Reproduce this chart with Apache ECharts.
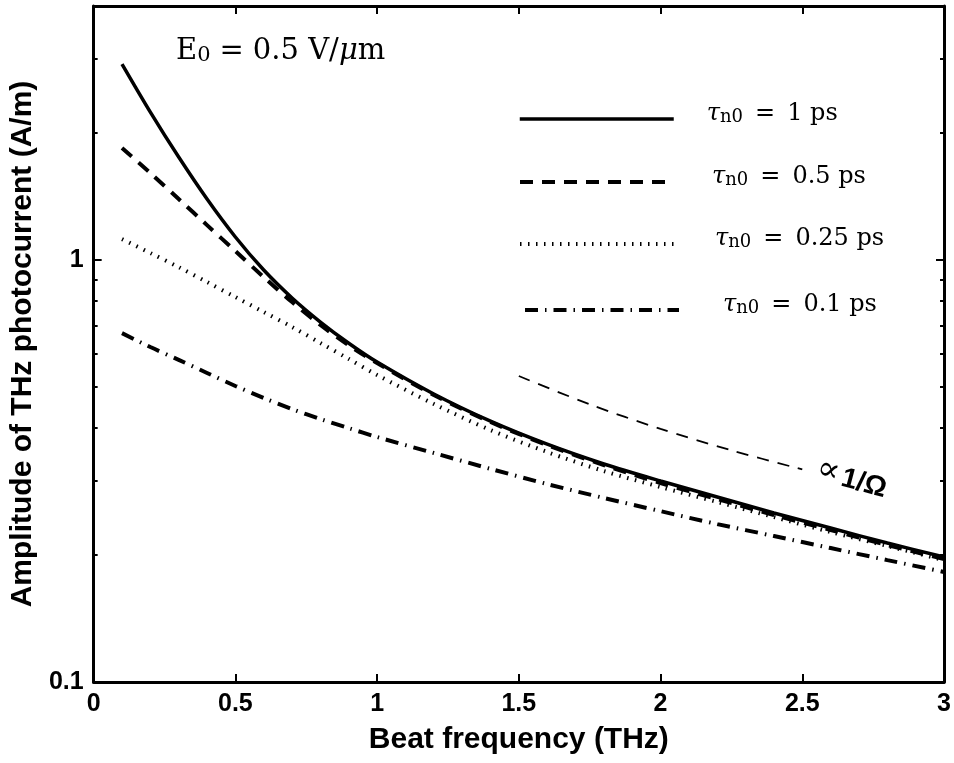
<!DOCTYPE html>
<html>
<head>
<meta charset="utf-8">
<script src="https://cdn.jsdelivr.net/npm/echarts@6/dist/echarts.min.js"></script>
<style>
  html, body { margin: 0; padding: 0; background: #fff; }
  #chart { width: 954px; height: 763px; }
</style>
</head>
<body>
<div id="chart"></div>
<script>
// ---- data ----
const freq   = [0.1, 0.2, 0.3, 0.4, 0.5, 0.6, 0.7, 0.8, 0.9, 1.0, 1.2, 1.4, 1.6, 1.8, 2.0, 2.2, 2.4, 2.6, 2.8, 3.0];
const tau1   = [2.914, 2.242, 1.754, 1.395, 1.134, 0.947, 0.813, 0.713, 0.635, 0.573, 0.4814, 0.415, 0.366, 0.3286, 0.2995, 0.2744, 0.2515, 0.2317, 0.2135, 0.1978];
const tau05  = [1.843, 1.608, 1.395, 1.210, 1.050, 0.911, 0.795, 0.7015, 0.628, 0.570, 0.4787, 0.4132, 0.3643, 0.3267, 0.2961, 0.2714, 0.2487, 0.2292, 0.2112, 0.1956];
const tau025 = [1.121, 1.039, 0.962, 0.887, 0.817, 0.753, 0.694, 0.636, 0.583, 0.534, 0.456, 0.3955, 0.3508, 0.3162, 0.2898, 0.2671, 0.246, 0.2267, 0.2101, 0.1945];
const tau01  = [0.671, 0.622, 0.580, 0.540, 0.503, 0.471, 0.4434, 0.4199, 0.3995, 0.3807, 0.3489, 0.320, 0.2945, 0.273, 0.254, 0.2367, 0.2218, 0.2077, 0.1945, 0.1823];
const invFreq      = [1.5, 1.75, 2.0, 2.25, 2.5];
const invReference = [0.531, 0.455, 0.398, 0.354, 0.319];

const xTicksInterval = 0.5;
const yMajorTicks = [0.1, 1];
const yMinorTicks = [0.2, 0.3, 0.4, 0.5, 0.6, 0.7, 0.8, 0.9, 2, 3];

const seriesNames = ['tau1', 'tau05', 'tau025', 'tau01'];
const legendLabels = {
  tau1:   '{i|τ}{s|n0}{e|=}{t|1}{t| ps}',
  tau05:  '{i|τ}{s|n0}{e|=}{t|0.5}{t| ps}',
  tau025: '{i|τ}{s|n0}{e|=}{t|0.25}{t| ps}',
  tau01:  '{i|τ}{s|n0}{e|=}{t|0.1}{t| ps}'
};

// ---- styles ----
const serif = 'DejaVu Serif';
const sans = 'Liberation Sans';
const richLatex = {
  i: { fontFamily: serif, fontStyle: 'italic', fontWeight: 'normal', fontSize: 24, lineHeight: 30, verticalAlign: 'bottom', color: '#000' },
  t: { fontFamily: serif, fontWeight: 'normal', fontSize: 24, lineHeight: 30, verticalAlign: 'bottom', color: '#000' },
  s: { fontFamily: serif, fontWeight: 'normal', fontSize: 18, lineHeight: 15, verticalAlign: 'bottom', color: '#000' },
  e: { fontFamily: serif, fontWeight: 'normal', fontSize: 24, lineHeight: 30, verticalAlign: 'bottom', color: '#000', padding: [0, 12, 0, 12] }
};
const styles = {
  tau1:   { width: 3.5, type: 'solid' },
  tau05:  { width: 4, type: [13, 9] },
  tau025: { width: 4, type: [1.5, 6.5] },
  tau01:  { width: 4, type: [13, 7, 1.5, 7] }
};
const legendPos = {
  tau1:   { left: 518, top: 102, pad: 28 },
  tau05:  { left: 518, top: 165, pad: 33 },
  tau025: { left: 518, top: 227, pad: 36 },
  tau01:  { left: 523, top: 293, pad: 39 }
};
const seriesData = { tau1: tau1, tau05: tau05, tau025: tau025, tau01: tau01 };

function pairs(xs, ys) { return xs.map((x, k) => [x, ys[k]]); }

const axisLineStyle = { color: '#000', width: 3 };

function xAxisDef(pos, showLabel) {
  return {
    type: 'value', min: 0, max: 3, interval: xTicksInterval, position: pos,
    axisLine: { show: true, onZero: false, lineStyle: axisLineStyle },
    axisTick: { show: true, inside: true, length: 8, lineStyle: { color: '#000', width: 2 } },
    axisLabel: { show: showLabel, fontFamily: sans, fontWeight: 'bold', fontSize: 25, color: '#000', margin: 10 },
    splitLine: { show: false },
    name: showLabel ? 'Beat frequency (THz)' : '',
    nameLocation: 'middle', nameGap: 43,
    nameTextStyle: { fontFamily: sans, fontWeight: 'bold', fontSize: 30, color: '#000' }
  };
}
function yAxisDef(pos, ticks, len, showLabel, showLine) {
  return {
    type: 'log', logBase: 10, min: 0.1, max: 4, position: pos,
    axisLine: { show: showLine, onZero: false, lineStyle: axisLineStyle },
    axisTick: { show: true, inside: true, length: len, customValues: ticks, lineStyle: { color: '#000', width: 2 } },
    axisLabel: { show: showLabel, customValues: showLabel ? ticks : undefined,
      fontFamily: sans, fontWeight: 'bold', fontSize: 25, color: '#000', margin: 10 },
    minorTick: { show: false },
    splitLine: { show: false },
    name: showLabel ? 'Amplitude of THz photocurrent (A/m)' : '',
    nameLocation: 'middle', nameGap: 44,
    nameTextStyle: { fontFamily: sans, fontWeight: 'bold', fontSize: 30, color: '#000' }
  };
}

const series = seriesNames.map(n => ({
  name: n, type: 'line', data: pairs(freq, seriesData[n]),
  symbol: 'none', smooth: 0.3, xAxisIndex: 0, yAxisIndex: 0,
  lineStyle: { color: '#000', width: styles[n].width, type: styles[n].type, cap: 'butt' },
  itemStyle: { color: '#000' }, z: 3
}));
series.push({
  name: 'inv', type: 'line', data: pairs(invFreq, invReference),
  symbol: 'none', smooth: 0.3, xAxisIndex: 0, yAxisIndex: 0,
  lineStyle: { color: '#000', width: 1.8, type: [12, 9], cap: 'butt' },
  markPoint: {
    symbol: 'circle', symbolSize: 0, silent: true,
    data: [{ type: 'min' }],
    label: {
      show: true, position: 'inside', offset: [50, -2], rotate: -15,
      formatter: '{p|∝} {b|1/Ω}',
      rich: {
        p: { fontFamily: 'DejaVu Serif', fontSize: 34, color: '#000', padding: [0, 0, 6, 0] },
        b: { fontFamily: sans, fontWeight: 'bold', fontSize: 28, color: '#000' }
      }
    }
  }
});

const legends = seriesNames.map(n => ({
  data: [n], orient: 'horizontal', left: legendPos[n].left, top: legendPos[n].top,
  padding: 0, itemWidth: 154, itemHeight: 14, selectedMode: false,
  itemStyle: { opacity: 0, borderWidth: 0 },
  lineStyle: { color: '#000', width: styles[n].width, type: styles[n].type, cap: 'butt', opacity: 1 },
  formatter: () => legendLabels[n],
  textStyle: { padding: [0, 0, 16, legendPos[n].pad], rich: richLatex }
}));

const option = {
  animation: false,
  backgroundColor: '#fff',
  title: {
    text: '{t|E}{s|0}{e|=}{t|0.5 V/}{i|μ}{t|m}',
    left: 176, top: 30, padding: 0,
    textStyle: {
      fontWeight: 'normal',
      rich: {
        t: { fontFamily: serif, fontWeight: 'normal', fontSize: 29, lineHeight: 36, verticalAlign: 'bottom', color: '#000' },
        i: { fontFamily: serif, fontWeight: 'normal', fontStyle: 'italic', fontSize: 29, lineHeight: 36, verticalAlign: 'bottom', color: '#000' },
        s: { fontFamily: serif, fontWeight: 'normal', fontSize: 21, lineHeight: 16, verticalAlign: 'bottom', color: '#000' },
        e: { fontFamily: serif, fontWeight: 'normal', fontSize: 29, lineHeight: 36, verticalAlign: 'bottom', color: '#000', padding: [0, 9, 0, 9] }
      }
    }
  },
  legend: legends,
  grid: { left: 88, right: 10, top: 6, bottom: 81, containLabel: false },
  xAxis: [xAxisDef('bottom', true), xAxisDef('top', false)],
  yAxis: [
    yAxisDef('left', yMajorTicks, 8, true, true),
    yAxisDef('left', yMinorTicks, 4, false, false),
    yAxisDef('right', yMajorTicks, 8, false, true),
    yAxisDef('right', yMinorTicks, 4, false, false)
  ],
  series: series
};

const chart = echarts.init(document.getElementById('chart'), null, { renderer: 'canvas' });
chart.setOption(option);
</script>
</body>
</html>
